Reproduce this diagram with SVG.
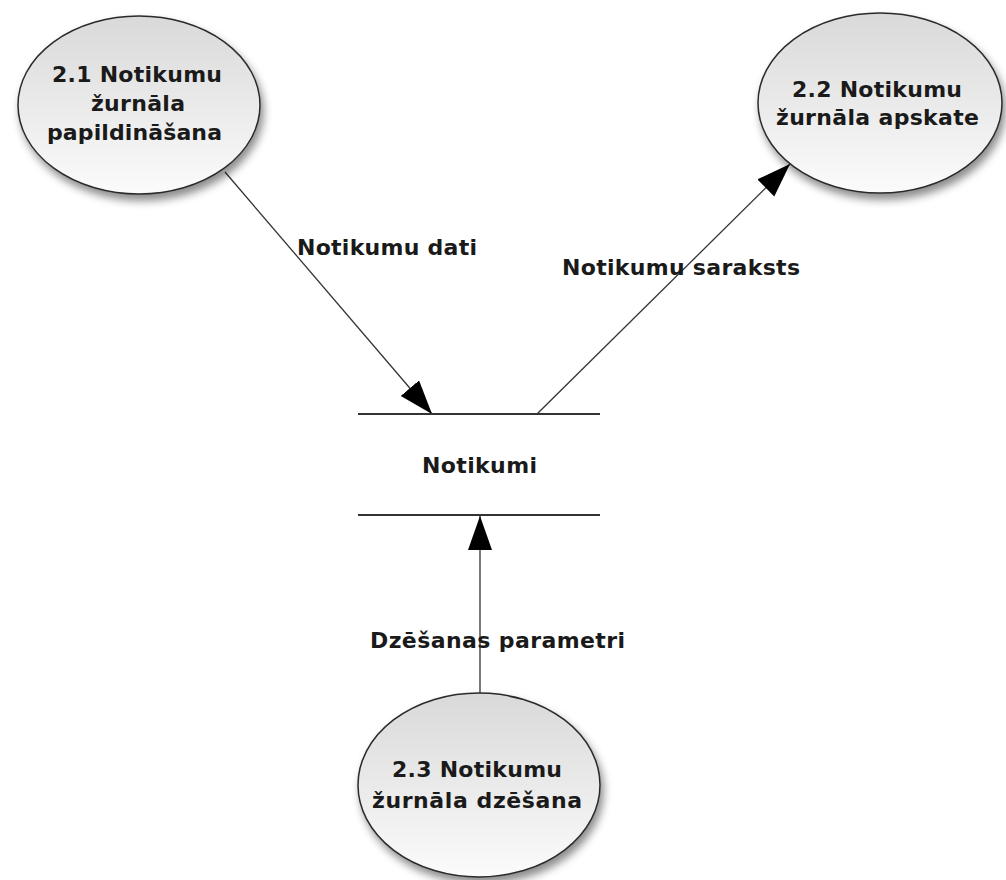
<svg xmlns="http://www.w3.org/2000/svg" width="1006" height="880" viewBox="0 0 1006 880">
<defs>
<linearGradient id="bub" x1="0" y1="0" x2="0" y2="1">
<stop offset="0" stop-color="#d9d9d9"/>
<stop offset="1" stop-color="#fbfbfb"/>
</linearGradient>
<filter id="sh" x="-20%" y="-20%" width="150%" height="150%">
<feDropShadow dx="3" dy="6" stdDeviation="4" flood-color="#000" flood-opacity="0.45"/>
</filter>
<marker id="ah" markerUnits="userSpaceOnUse" markerWidth="36" markerHeight="26" refX="34" refY="12" orient="auto">
<path d="M0,0 L34,12 L0,24 z" fill="#000"/>
</marker>
<style>
.nt,.lb{font-family:"DejaVu Sans",Verdana,sans-serif;font-weight:bold;font-size:22px;fill:#1a1a1a}
.bub{fill:url(#bub);stroke:#2a2a2a;stroke-width:1.5;filter:url(#sh)}
.fl{stroke:#333;stroke-width:1.3;fill:none;marker-end:url(#ah)}
.ds{stroke:#333;stroke-width:2}
</style>
</defs>
<rect width="1006" height="880" fill="#fff"/>
<g id="connectors">
<line class="fl" x1="225" y1="172" x2="432" y2="414"/>
<line class="fl" x1="537" y1="414" x2="790" y2="164"/>
<line class="fl" x1="480" y1="693" x2="480" y2="516"/>
<text class="lb" x="297" y="255" textLength="180" lengthAdjust="spacing">Notikumu dati</text>
<text class="lb" x="562" y="275" textLength="238" lengthAdjust="spacing">Notikumu saraksts</text>
<text class="lb" x="370" y="648" textLength="255" lengthAdjust="spacing">Dzēšanas parametri</text>
</g>
<g id="p21">
<ellipse class="bub" cx="139" cy="105" rx="121" ry="89"/>
<text class="nt" x="52" y="82" textLength="170" lengthAdjust="spacing">2.1 Notikumu</text>
<text class="nt" x="91" y="111" textLength="94" lengthAdjust="spacing">žurnāla</text>
<text class="nt" x="47" y="140" textLength="175" lengthAdjust="spacing">papildināšana</text>
</g>
<g id="p22">
<ellipse class="bub" cx="880" cy="103" rx="122" ry="90"/>
<text class="nt" x="792" y="97" textLength="170" lengthAdjust="spacing">2.2 Notikumu</text>
<text class="nt" x="776" y="125" textLength="203" lengthAdjust="spacing">žurnāla apskate</text>
</g>
<g id="p23">
<ellipse class="bub" cx="479" cy="785" rx="121" ry="92"/>
<text class="nt" x="392" y="777" textLength="170" lengthAdjust="spacing">2.3 Notikumu</text>
<text class="nt" x="372" y="808" textLength="210" lengthAdjust="spacing">žurnāla dzēšana</text>
</g>
<g id="ds-notikumi">
<line class="ds" x1="358" y1="414" x2="600" y2="414"/>
<line class="ds" x1="358" y1="515" x2="600" y2="515"/>
<text class="lb" x="422" y="473" textLength="115" lengthAdjust="spacing">Notikumi</text>
</g>
</svg>
